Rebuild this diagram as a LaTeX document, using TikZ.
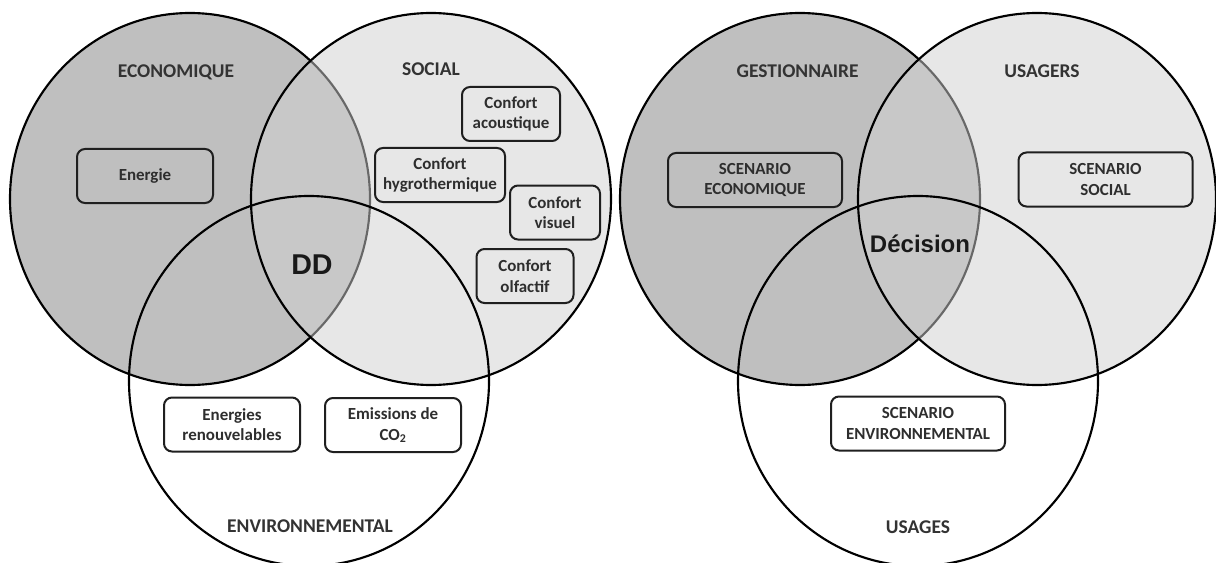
\documentclass[tikz,border=0pt]{standalone}
\usepackage{fontspec}
\setmainfont{Carlito}
\newfontfamily\arialfont{Liberation Sans}
\begin{document}
\begin{tikzpicture}[x=0.75pt,y=-0.75pt,
  ring/.style={line width=1.6pt, draw=black},
  darkdisc/.style={fill=black!25},
  lightdisc/.style={fill=black!18, fill opacity=0.5},
  tag/.style={font=\bfseries\fontsize{14.6pt}{17pt}\selectfont, text=black!80, anchor=base, inner sep=0pt},
  core/.style={font=\arialfont\bfseries, text=black!90, anchor=base, inner sep=0pt},
  item/.style={draw=black!88, line width=1.5pt, rounded corners=6pt, align=center,
    inner sep=0pt, minimum height=40.5pt, text=black!82,
    font=\bfseries\fontsize{12.7pt}{15.4pt}\selectfont},
]
\fill[white] (0,0) rectangle (1216,563);
\useasboundingbox (0,0) rectangle (1216,563);

% ---- sustainable development: three pillars ----
\path[ring, darkdisc] (190,199) ellipse [x radius=180, y radius=186];
\path[ring, lightdisc] (431,199) ellipse [x radius=180, y radius=186];
\draw[ring] (309,381) ellipse [x radius=180, y radius=185];

\node[tag] (lblEco) at (176,78) {ECONOMIQUE};
\node[tag] (lblSoc) at (431,75.5) {SOCIAL};
\node[tag] (lblEnv) at (310,532) {ENVIRONNEMENTAL};
\node[core, font=\arialfont\bfseries\fontsize{21.5pt}{24pt}\selectfont] (dd) at (312,274) {DD};

\node[item, minimum width=102pt] (energie) at (145,176) {Energie};
\node[item, minimum width=73.5pt] (acoustique) at (511,114) {Confort\\acoustique};
\node[item, minimum width=97.5pt] (hygro) at (440,175) {Confort\\hygrothermique};
\node[item, minimum width=67.5pt] (visuel) at (555,212.5) {Confort\\visuel};
\node[item, minimum width=72.75pt] (olfactif) at (525,276) {Confort\\olfactif};
\node[item, minimum width=102pt] (renouv) at (232,424.5) {Energies\\renouvelables};
\node[item, minimum width=102pt] (co2) at (393,425) {Emissions de\\CO\textsubscript{2}};

% ---- decision: three stakeholders ----
\path[ring, darkdisc] (800,199) ellipse [x radius=180, y radius=186];
\path[ring, lightdisc] (1037,199) ellipse [x radius=179, y radius=186];
\draw[ring] (918,381) ellipse [x radius=180, y radius=185];

\node[tag] (lblGest) at (797.6,78) {GESTIONNAIRE};
\node[tag] (lblUsagers) at (1042,77.5) {USAGERS};
\node[tag] (lblUsages) at (918,533.5) {USAGES};
\node[core, font=\arialfont\bfseries\fontsize{18pt}{21pt}\selectfont] (decision) at (920,252.5) {Décision};

\node[item, minimum width=130.5pt] (scEco) at (755,180) {SCENARIO\\ECONOMIQUE};
\node[item, minimum width=130.5pt] (scSoc) at (1105.5,179.5) {SCENARIO\\SOCIAL};
\node[item, minimum width=130.5pt] (scEnv) at (918,423.5) {SCENARIO\\ENVIRONNEMENTAL};
\end{tikzpicture}
\end{document}
